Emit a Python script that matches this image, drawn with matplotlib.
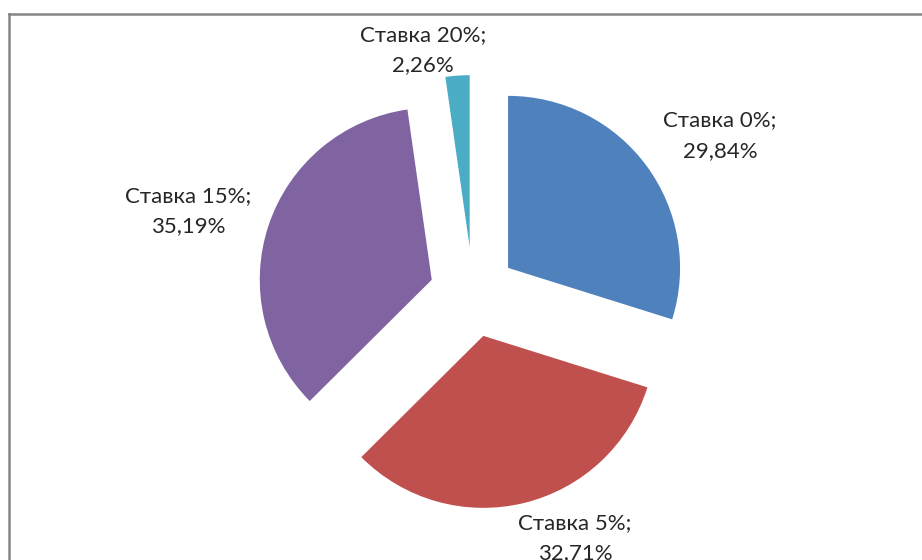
import matplotlib
matplotlib.use("Agg")
import matplotlib.pyplot as plt
from matplotlib.lines import Line2D

plt.rcParams['font.family'] = ['Lato', 'DejaVu Sans']

categories = ["Ставка 0%", "Ставка 5%", "Ставка 15%", "Ставка 20%"]
values = [29.84, 32.71, 35.19, 2.26]
value_labels = ["29,84%", "32,71%", "35,19%", "2,26%"]
colors = ["#4F81BD", "#C0504D", "#8064A2", "#4BACC6"]

W, H = 922, 560
fig = plt.figure(figsize=(W / 100, H / 100), dpi=100)
fig.patch.set_facecolor("white")
ax = fig.add_axes([0, 0, 1, 1])

radius = 172
center = (473, H - 293.6)
ax.pie(values, colors=colors, startangle=90, counterclock=False,
       radius=radius, center=center, explode=[43.5, 43.5, 43.5, 46.5],
       wedgeprops=dict(linewidth=0), frame=True)
ax.set_xlim(0, W)
ax.set_ylim(0, H)
ax.axis("off")

label_pos = [(720, H - 135.5), (575, H - 538), (188, H - 211), (423, H - 50)]
for (x, y), cat, vl in zip(label_pos, categories, value_labels):
    ax.text(x, y, f"{cat};\n{vl}", ha="center", va="center", fontsize=16,
            color="#262626", linespacing=1.65)

# chart frame
fig.add_artist(Line2D([9 / W, 1], [1 - 14 / H, 1 - 14 / H], color="#868686", lw=1.8,
                      transform=fig.transFigure))
fig.add_artist(Line2D([9 / W, 9 / W], [0, 1 - 14 / H], color="#868686", lw=1.8,
                      transform=fig.transFigure))

fig.savefig("out.png", dpi=100)
